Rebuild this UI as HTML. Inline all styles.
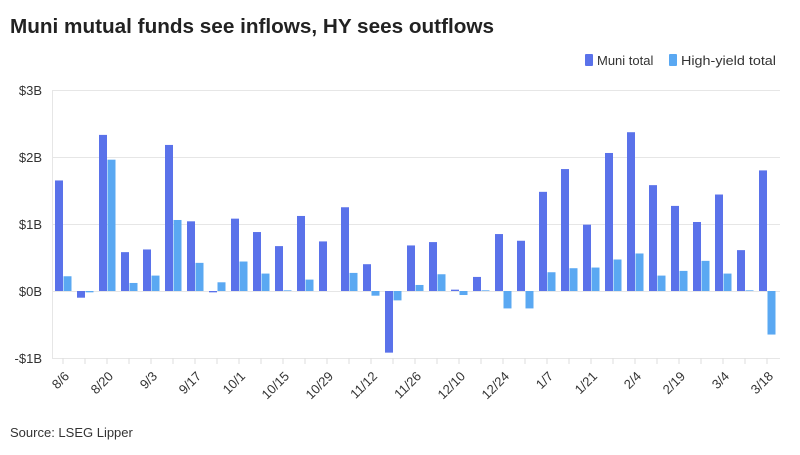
<!DOCTYPE html>
<html><head><meta charset="utf-8"><style>
body{margin:0;background:#fff;width:800px;height:450px;overflow:hidden;font-family:"Liberation Sans",sans-serif;}
</style></head><body>
<svg width="800" height="450" xmlns="http://www.w3.org/2000/svg" font-family="Liberation Sans, sans-serif">
<text x="10" y="33" font-size="20.5" font-weight="bold" fill="#222" textLength="484" lengthAdjust="spacingAndGlyphs">Muni mutual funds see inflows, HY sees outflows</text>
<rect x="585" y="54" width="8" height="12" rx="1" fill="#5a72ea"/>
<text x="597" y="65" font-size="13" fill="#333">Muni total</text>
<rect x="669" y="54" width="8" height="12" rx="1" fill="#5aa8f2"/>
<text x="681" y="65" font-size="13" fill="#333" textLength="95" lengthAdjust="spacingAndGlyphs">High-yield total</text>
<g stroke="#e6e6e6" stroke-width="1">
<line x1="52" y1="90.5" x2="780" y2="90.5"/>
<line x1="52" y1="157.5" x2="780" y2="157.5"/>
<line x1="52" y1="224.5" x2="780" y2="224.5"/>
<line x1="52" y1="291.5" x2="780" y2="291.5"/>
<line x1="52" y1="358.5" x2="780" y2="358.5"/>
<line x1="52.5" y1="90" x2="52.5" y2="358"/>
</g>
<g font-size="13" fill="#333" text-anchor="end">
<text x="42" y="95">$3B</text><text x="42" y="162">$2B</text><text x="42" y="229">$1B</text><text x="42" y="296">$0B</text><text x="42" y="363">-$1B</text>
</g>
<g fill="#5a72ea">
<rect x="55" y="180.45" width="8" height="110.55"/>
<rect x="77" y="291" width="8" height="6.7"/>
<rect x="99" y="134.89" width="8" height="156.11"/>
<rect x="121" y="252.14" width="8" height="38.86"/>
<rect x="143" y="249.46" width="8" height="41.54"/>
<rect x="165" y="144.94" width="8" height="146.06"/>
<rect x="187" y="221.32" width="8" height="69.68"/>
<rect x="209" y="291" width="8" height="1.34"/>
<rect x="231" y="218.64" width="8" height="72.36"/>
<rect x="253" y="232.04" width="8" height="58.96"/>
<rect x="275" y="246.11" width="8" height="44.89"/>
<rect x="297" y="215.96" width="8" height="75.04"/>
<rect x="319" y="241.42" width="8" height="49.58"/>
<rect x="341" y="207.25" width="8" height="83.75"/>
<rect x="363" y="264.2" width="8" height="26.8"/>
<rect x="385" y="291" width="8" height="61.64"/>
<rect x="407" y="245.44" width="8" height="45.56"/>
<rect x="429" y="242.09" width="8" height="48.91"/>
<rect x="451" y="289.66" width="8" height="1.34"/>
<rect x="473" y="276.93" width="8" height="14.07"/>
<rect x="495" y="234.05" width="8" height="56.95"/>
<rect x="517" y="240.75" width="8" height="50.25"/>
<rect x="539" y="191.84" width="8" height="99.16"/>
<rect x="561" y="169.06" width="8" height="121.94"/>
<rect x="583" y="224.67" width="8" height="66.33"/>
<rect x="605" y="152.98" width="8" height="138.02"/>
<rect x="627" y="132.21" width="8" height="158.79"/>
<rect x="649" y="185.14" width="8" height="105.86"/>
<rect x="671" y="205.91" width="8" height="85.09"/>
<rect x="693" y="221.99" width="8" height="69.01"/>
<rect x="715" y="194.52" width="8" height="96.48"/>
<rect x="737" y="250.13" width="8" height="40.87"/>
<rect x="759" y="170.4" width="8" height="120.6"/>
</g>
<g fill="#5aa8f2">
<rect x="63.5" y="276.26" width="8" height="14.74"/>
<rect x="85.5" y="291" width="8" height="1.34"/>
<rect x="107.5" y="159.68" width="8" height="131.32"/>
<rect x="129.5" y="282.96" width="8" height="8.04"/>
<rect x="151.5" y="275.59" width="8" height="15.41"/>
<rect x="173.5" y="219.98" width="8" height="71.02"/>
<rect x="195.5" y="262.86" width="8" height="28.14"/>
<rect x="217.5" y="282.29" width="8" height="8.71"/>
<rect x="239.5" y="261.52" width="8" height="29.48"/>
<rect x="261.5" y="273.58" width="8" height="17.42"/>
<rect x="283.5" y="290.33" width="8" height="0.67"/>
<rect x="305.5" y="279.61" width="8" height="11.39"/>
<rect x="349.5" y="272.91" width="8" height="18.09"/>
<rect x="371.5" y="291" width="8" height="4.69"/>
<rect x="393.5" y="291" width="8" height="9.38"/>
<rect x="415.5" y="284.97" width="8" height="6.03"/>
<rect x="437.5" y="274.25" width="8" height="16.75"/>
<rect x="459.5" y="291" width="8" height="4.02"/>
<rect x="481.5" y="290.33" width="8" height="0.67"/>
<rect x="503.5" y="291" width="8" height="17.42"/>
<rect x="525.5" y="291" width="8" height="17.42"/>
<rect x="547.5" y="272.24" width="8" height="18.76"/>
<rect x="569.5" y="268.22" width="8" height="22.78"/>
<rect x="591.5" y="267.55" width="8" height="23.45"/>
<rect x="613.5" y="259.51" width="8" height="31.49"/>
<rect x="635.5" y="253.48" width="8" height="37.52"/>
<rect x="657.5" y="275.59" width="8" height="15.41"/>
<rect x="679.5" y="270.9" width="8" height="20.1"/>
<rect x="701.5" y="260.85" width="8" height="30.15"/>
<rect x="723.5" y="273.58" width="8" height="17.42"/>
<rect x="745.5" y="290.33" width="8" height="0.67"/>
<rect x="767.5" y="291" width="8" height="43.55"/>
</g>
<g stroke="#ddd">
<path d="M63 358v6M85 358v6M107 358v6M129 358v6M151 358v6M173 358v6M195 358v6M217 358v6M239 358v6M261 358v6M283 358v6M305 358v6M327 358v6M349 358v6M371 358v6M393 358v6M415 358v6M437 358v6M459 358v6M481 358v6M503 358v6M525 358v6M547 358v6M569 358v6M591 358v6M613 358v6M635 358v6M657 358v6M679 358v6M701 358v6M723 358v6M745 358v6M767 358v6"/>
</g>
<g font-size="13" fill="#333" text-anchor="end">
<text x="70" y="377" transform="rotate(-45 70 377)">8/6</text>
<text x="114" y="377" transform="rotate(-45 114 377)">8/20</text>
<text x="158" y="377" transform="rotate(-45 158 377)">9/3</text>
<text x="202" y="377" transform="rotate(-45 202 377)">9/17</text>
<text x="246" y="377" transform="rotate(-45 246 377)">10/1</text>
<text x="290" y="377" transform="rotate(-45 290 377)">10/15</text>
<text x="334" y="377" transform="rotate(-45 334 377)">10/29</text>
<text x="378" y="377" transform="rotate(-45 378 377)">11/12</text>
<text x="422" y="377" transform="rotate(-45 422 377)">11/26</text>
<text x="466" y="377" transform="rotate(-45 466 377)">12/10</text>
<text x="510" y="377" transform="rotate(-45 510 377)">12/24</text>
<text x="554" y="377" transform="rotate(-45 554 377)">1/7</text>
<text x="598" y="377" transform="rotate(-45 598 377)">1/21</text>
<text x="642" y="377" transform="rotate(-45 642 377)">2/4</text>
<text x="686" y="377" transform="rotate(-45 686 377)">2/19</text>
<text x="730" y="377" transform="rotate(-45 730 377)">3/4</text>
<text x="774" y="377" transform="rotate(-45 774 377)">3/18</text>
</g>
<text x="10" y="437" font-size="13" fill="#333">Source: LSEG Lipper</text>
</svg>
</body></html>
